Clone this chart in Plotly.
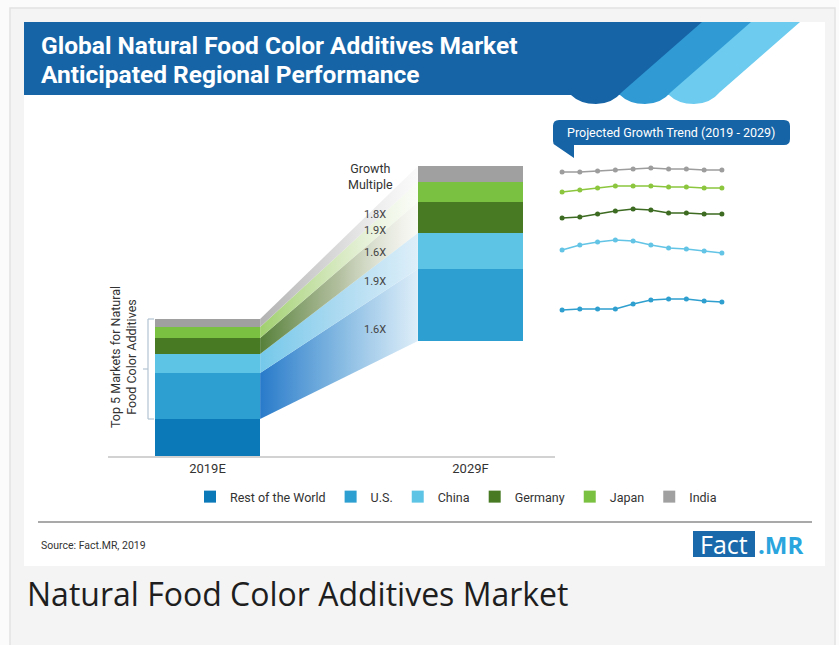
import plotly.graph_objects as go

W, H = 839, 645

# ---------------- data ----------------
categories = ["2019E", "2029F"]
regions = ["Rest of the World", "U.S.", "China", "Germany", "Japan", "India"]
size_2019 = [3.7, 4.6, 1.9, 1.6, 1.1, 0.8]
size_2029 = [11.5, 7.2, 3.6, 3.1, 2.0, 1.6]
shown_2029 = [False, True, True, True, True, True]
growth_multiple = ["", "1.6X", "1.9X", "1.6X", "1.9X", "1.8X"]

trend_years = [2020, 2021, 2022, 2023, 2024, 2025, 2026, 2027, 2028, 2029]
trend_india = [28.4, 28.4, 28.5, 28.6, 28.7, 28.8, 28.7, 28.7, 28.6, 28.6]
trend_japan = [26.4, 26.6, 26.8, 27.0, 27.0, 27.0, 26.9, 26.9, 26.8, 26.8]
trend_germany = [23.8, 23.9, 24.2, 24.5, 24.7, 24.6, 24.3, 24.3, 24.2, 24.2]
trend_china = [20.6, 21.1, 21.4, 21.6, 21.5, 21.1, 20.8, 20.7, 20.5, 20.3]
trend_us = [14.6, 14.7, 14.7, 14.7, 15.2, 15.6, 15.7, 15.7, 15.5, 15.4]

# ---------------- styles ----------------
bar_colors = ["#0b78b8", "#2d9fd1", "#5ec4e5", "#477a23", "#7bc141", "#a0a0a0"]
ribbon_scales = [
    None,
    [[0, "rgba(40,122,202,1)"], [0.5, "rgba(125,181,224,0.95)"], [1, "rgba(218,236,248,0.9)"]],
    [[0, "rgba(116,200,234,1)"], [0.5, "rgba(168,216,240,0.95)"], [1, "rgba(218,237,248,0.9)"]],
    [[0, "rgba(86,128,58,1)"], [0.5, "rgba(165,180,142,0.85)"], [1, "rgba(240,240,232,0.4)"]],
    [[0, "rgba(160,208,110,1)"], [0.5, "rgba(207,229,181,0.85)"], [1, "rgba(242,247,234,0.4)"]],
    [[0, "rgba(178,178,178,1)"], [0.5, "rgba(212,212,212,0.85)"], [1, "rgba(243,243,243,0.4)"]],
]
trend_colors = {"India": "#9d9d9d", "Japan": "#8cc63f", "Germany": "#3d6b22",
                "China": "#63c4e6", "U.S.": "#2e9fcf"}

NARROW = "Roboto, Liberation Sans, sans-serif"
TXT = "#333333"


def fx(px):
    return px / W


def fy(py):
    return 1 - py / H


def path(cmds):
    out = []
    for c in cmds:
        if isinstance(c, str):
            out.append(c)
        else:
            out.append(f"{fx(c[0]):.5f},{fy(c[1]):.5f}")
    return " ".join(out)


BAR_W = 0.4
x_pos = [0, 1]

fig = go.Figure()

# ribbons between the two bars
cum19 = [0]
cum29 = [0]
for a, b in zip(size_2019, size_2029):
    cum19.append(cum19[-1] + a)
    cum29.append(cum29[-1] + b)

xl = x_pos[0] + BAR_W / 2
xr = x_pos[1] - BAR_W / 2
for k in range(1, len(regions)):
    lo1, hi1 = cum19[k], cum19[k + 1]
    lo2, hi2 = cum29[k], cum29[k + 1]
    fig.add_trace(go.Scatter(
        x=[xl, xr, xr, xl, xl], y=[lo1, lo2, hi2, hi1, lo1],
        mode="lines", line=dict(width=0), fill="toself",
        fillgradient=dict(type="horizontal", colorscale=ribbon_scales[k]),
        hoverinfo="skip", showlegend=False))

# stacked bars
for i, r in enumerate(regions):
    cols = [bar_colors[i], bar_colors[i] if shown_2029[i] else "rgba(0,0,0,0)"]
    fig.add_trace(go.Bar(
        x=x_pos, y=[size_2019[i], size_2029[i]], width=BAR_W, name=r,
        marker=dict(color=cols, line=dict(width=0)),
        hovertemplate=r + ": %{y}<extra></extra>"))

# trend lines
for name, vals in [("India", trend_india), ("Japan", trend_japan),
                   ("Germany", trend_germany), ("China", trend_china),
                   ("U.S.", trend_us)]:
    c = trend_colors[name]
    fig.add_trace(go.Scatter(
        x=trend_years, y=vals, xaxis="x2", yaxis="y", mode="lines+markers",
        line=dict(color=c, width=1.6), marker=dict(color=c, size=5),
        showlegend=False, name=name, hoverinfo="skip"))

shapes = []
# outer frame and white card
shapes.append(dict(type="rect", xref="paper", yref="paper", x0=fx(10), x1=fx(835),
                   y0=fy(700), y1=fy(8), fillcolor="#f4f4f4",
                   line=dict(color="#e2e2e2", width=1.5), layer="below"))
shapes.append(dict(type="rect", xref="paper", yref="paper", x0=fx(24), x1=fx(825),
                   y0=fy(566), y1=fy(22), fillcolor="#ffffff",
                   line=dict(width=0), layer="below"))
# title banner stripes
for right, col in [(800, "#6ccbef"), (751, "#2f9ad4"), (702, "#1664a6")]:
    d = right - 702
    shapes.append(dict(type="path", xref="paper", yref="paper", layer="above",
                       fillcolor=col, line=dict(width=0),
                       path=path(["M", (24, 22), "L", (right, 22), "L", (622 + d, 92),
                                  "Q", (612 + d, 104), (596 + d, 104),
                                  "Q", (580 + d, 104), (571 + d, 95),
                                  "L", (24, 95), "Z"])))
# trend panel label box with tail
shapes.append(dict(type="path", xref="paper", yref="paper", fillcolor="#1664a6",
                   line=dict(width=0),
                   path=path(["M", (553, 126), "Q", (553, 120), (559, 120),
                              "L", (784, 120), "Q", (790, 120), (790, 126),
                              "L", (790, 139), "Q", (790, 145), (784, 145),
                              "L", (574, 145), "L", (574, 158), "L", (555, 145),
                              "Q", (553, 144), (553, 141), "Z"])))
# bracket for top 5 markets
bc = "#b3c3d3"
top5_lo, top5_hi = cum19[1], cum19[-1]
shapes += [
    dict(type="line", xref="paper", yref="y", x0=fx(148), x1=fx(148), y0=top5_lo, y1=top5_hi,
         line=dict(color=bc, width=1.2)),
    dict(type="line", xref="paper", yref="y", x0=fx(148), x1=fx(154), y0=top5_lo, y1=top5_lo,
         line=dict(color=bc, width=1.2)),
    dict(type="line", xref="paper", yref="y", x0=fx(148), x1=fx(154), y0=top5_hi, y1=top5_hi,
         line=dict(color=bc, width=1.2)),
    dict(type="line", xref="paper", yref="y", x0=fx(143), x1=fx(148),
         y0=(top5_lo + top5_hi) / 2, y1=(top5_lo + top5_hi) / 2, line=dict(color=bc, width=1.2)),
]
# source rule and logo box
shapes.append(dict(type="line", xref="paper", yref="paper", x0=fx(38), x1=fx(812),
                   y0=fy(522), y1=fy(522), line=dict(color="#a9a9a9", width=2)))
shapes.append(dict(type="rect", xref="paper", yref="paper", x0=fx(693), x1=fx(755),
                   y0=fy(557), y1=fy(531), fillcolor="#1a6aab", line=dict(width=0)))

ann = []
ann.append(dict(text="<b>Global Natural Food Color Additives Market</b>", x=fx(39), y=fy(45),
                xref="paper", yref="paper", xanchor="left", yanchor="middle", showarrow=False,
                font=dict(family=NARROW, size=24.5, color="white")))
ann.append(dict(text="<b>Anticipated Regional Performance</b>", x=fx(39), y=fy(75),
                xref="paper", yref="paper", xanchor="left", yanchor="middle", showarrow=False,
                font=dict(family=NARROW, size=24.5, color="white")))
ann.append(dict(text="Projected Growth Trend (2019 - 2029)", x=fx(671), y=fy(132),
                xref="paper", yref="paper", xanchor="center", yanchor="middle", showarrow=False,
                font=dict(family=NARROW, size=12.5, color="white")))
ann.append(dict(text="Growth<br>Multiple", x=fx(370), y=fy(176), xref="paper", yref="paper",
                xanchor="center", yanchor="middle", showarrow=False,
                font=dict(family=NARROW, size=12.5, color=TXT)))
# growth multiple labels at ribbon mid-points
x_lab = (375 - 207.5) / 263
t = (x_lab - xl) / (xr - xl)
for k in range(1, len(regions)):
    m1 = (cum19[k] + cum19[k + 1]) / 2
    m2 = (cum29[k] + cum29[k + 1]) / 2
    ann.append(dict(text=growth_multiple[k], x=x_lab, y=m1 + t * (m2 - m1), xref="x", yref="y",
                    xanchor="center", yanchor="middle", showarrow=False,
                    font=dict(family=NARROW, size=11, color="#444444")))
ann.append(dict(text="Top 5 Markets for Natural<br>Food Color Additives", x=fx(123), y=fy(357),
                xref="paper", yref="paper", xanchor="center", yanchor="middle", showarrow=False,
                textangle=-90, font=dict(family=NARROW, size=12.5, color=TXT)))
ann.append(dict(text="Source: Fact.MR, 2019", x=fx(39), y=fy(545), xref="paper", yref="paper",
                xanchor="left", yanchor="middle", showarrow=False,
                font=dict(family=NARROW, size=10.5, color="#333")))
ann.append(dict(text="Fact", x=fx(724), y=fy(544), xref="paper", yref="paper",
                xanchor="center", yanchor="middle", showarrow=False,
                font=dict(family="Open Sans, sans-serif", size=25, color="white")))
ann.append(dict(text="<b>.MR</b>", x=fx(756), y=fy(544), xref="paper", yref="paper",
                xanchor="left", yanchor="middle", showarrow=False,
                font=dict(family="Open Sans, sans-serif", size=24, color="#2aa5dd")))
ann.append(dict(text="Natural Food Color Additives Market", x=fx(25), y=fy(593),
                xref="paper", yref="paper", xanchor="left", yanchor="middle", showarrow=False,
                font=dict(family="Open Sans, sans-serif", size=32, color="#1e1e1e")))

fig.update_layout(
    width=W, height=H, margin=dict(l=0, r=0, t=0, b=0),
    paper_bgcolor="#fbfbfb", plot_bgcolor="rgba(0,0,0,0)",
    barmode="stack", bargap=0,
    xaxis=dict(domain=[fx(108), fx(555)], range=[(108 - 207.5) / 263, (555 - 207.5) / 263],
               tickvals=x_pos, ticktext=categories, showgrid=False, zeroline=False,
               showline=True, linecolor="#d2d2d2", linewidth=1.5, ticks="",
               tickfont=dict(family=NARROW, size=13, color=TXT), fixedrange=True),
    yaxis=dict(domain=[fy(456), fy(150)], range=[0, 30.6], visible=False, fixedrange=True),
    xaxis2=dict(domain=[fx(555), fx(732)], range=[2020 - 7 / 17.55, 2029 + 10 / 17.55],
                anchor="y", visible=False, fixedrange=True),
    legend=dict(orientation="h", x=fx(456), xanchor="center", y=fy(497), yanchor="middle",
                traceorder="normal", bgcolor="rgba(0,0,0,0)",
                font=dict(family=NARROW, size=12.5, color=TXT)),
    shapes=shapes, annotations=ann, showlegend=True,
)

fig.write_html("out.html", config={"displayModeBar": False},
               post_script="document.body.style.margin='0';document.body.style.overflow='hidden';")
